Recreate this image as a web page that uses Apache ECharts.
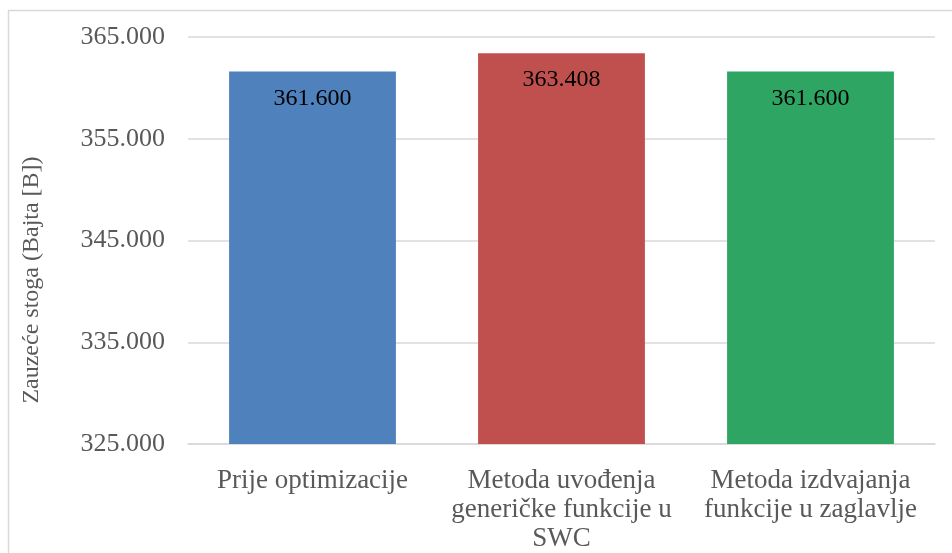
<!DOCTYPE html>
<html>
<head>
<meta charset="utf-8">
<script src="https://cdn.jsdelivr.net/npm/echarts@6/dist/echarts.min.js"></script>
<style>
html,body{margin:0;padding:0;background:#fff;}
#c{width:952px;height:553px;}
</style>
</head>
<body>
<div id="c"></div>
<script>
const categories = ["Prije optimizacije", "Metoda uvođenja\ngeneričke funkcije u\nSWC", "Metoda izdvajanja\nfunkcije u zaglavlje"];
const values = [361600, 363408, 361600];
const barColors = ["#4F81BD", "#C0504D", "#2EA562"];
const yTitle = "Zauzeće stoga (Bajta [B])";

function fmt(v){
  return String(Math.round(v)).replace(/\B(?=(\d{3})+(?!\d))/g, ".");
}

const chart = echarts.init(document.getElementById('c'));
const FONT = '"Liberation Serif", "Times New Roman", serif';
chart.setOption({
  animation: false,
  backgroundColor: '#fff',
  graphic: [
    {type:'rect', left:6, top:8, shape:{width:960, height:560}, style:{fill:'none', stroke:'#d9d9d9', lineWidth:1.5}, silent:true},
    {type:'text', x:32, y:280, rotation:Math.PI/2, style:{text:yTitle, font:'24px ' + FONT, fill:'#595959', textAlign:'center', textVerticalAlign:'middle'}}
  ],
  grid: {left:188, right:17, top:37, bottom:106},
  xAxis: {
    type:'category', data:categories,
    axisLine:{lineStyle:{color:'#d9d9d9', width:1.5}},
    axisTick:{show:false},
    axisLabel:{color:'#595959', fontFamily:FONT, fontSize:27, lineHeight:29, margin:22, interval:0}
  },
  yAxis: {
    type:'value', min:325000, max:365000, interval:10000,
    axisLine:{show:false}, axisTick:{show:false},
    splitLine:{lineStyle:{color:'#d9d9d9', width:1.5}},
    axisLabel:{color:'#595959', fontFamily:FONT, fontSize:26, margin:23, formatter:fmt}
  },
  series: [{
    type:'bar', barWidth:'67%',
    data: values.map((v,i)=>({value:v, itemStyle:{color:barColors[i]}})),
    label:{show:true, position:'insideTop', distance:15, color:'#000', fontFamily:FONT, fontSize:24,
      formatter:p=>fmt(p.value)}
  }]
});
</script>
</body>
</html>
